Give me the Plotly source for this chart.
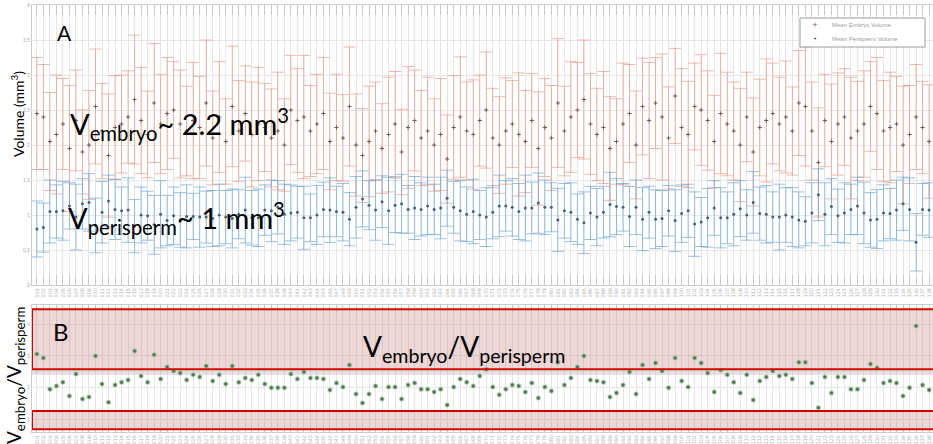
import plotly.graph_objects as go

# ---- data ----
ratio = [
    3.06, 2.93, 1.95, 2.05, 2.17, 1.73, 2.43, 1.64, 1.70, 2.99,
    2.11, 1.54, 2.08, 2.17, 2.24, 3.15, 2.36, 2.17, 3.03, 2.27,
    2.65, 2.52, 2.46, 2.24, 2.40, 2.33, 2.68, 2.21, 2.40, 2.11,
    2.68, 2.17, 2.30, 2.24, 2.40, 2.11, 1.99, 1.99, 1.99, 2.43,
    2.27, 2.49, 2.30, 2.30, 2.27, 1.92, 2.14, 2.02, 2.71, 1.80,
    1.51, 1.80, 2.05, 1.64, 2.02, 2.02, 1.64, 2.08, 2.14, 1.95,
    1.95, 1.86, 1.95, 1.45, 2.02, 2.27, 2.17, 2.05, 2.36, 2.58,
    2.02, 1.77, 1.95, 2.08, 2.05, 1.86, 2.14, 1.67, 2.02, 1.89,
    2.80, 2.08, 2.30, 2.65, 2.99, 2.24, 2.21, 2.17, 1.70, 1.83,
    2.08, 2.49, 1.80, 2.71, 2.27, 2.77, 2.52, 1.99, 2.93, 2.21,
    2.02, 2.93, 2.77, 2.46, 1.86, 2.55, 2.40, 2.17, 1.83, 2.40,
    1.61, 2.21, 2.33, 2.52, 2.36, 2.40, 2.27, 2.80, 2.80, 2.14,
    1.36, 2.33, 1.83, 2.33, 2.33, 1.95, 1.95, 2.24, 2.74, 2.62,
    2.14, 2.21, 2.14, 1.73, 1.99, 3.94, 2.08, 1.92,
]
embryo_mean = [
    2.45, 2.40, 2.05, 2.15, 2.30, 1.95, 2.35, 1.90, 2.00, 2.55,
    2.20, 1.85, 2.25, 2.30, 2.40, 2.65, 2.35, 2.15, 2.60, 2.30,
    2.45, 2.50, 2.30, 2.20, 2.35, 2.25, 2.60, 2.10, 2.40, 2.05,
    2.55, 2.20, 2.45, 2.15, 2.30, 2.25, 2.10, 2.20, 2.00, 2.50,
    2.35, 2.40, 2.20, 2.30, 2.45, 2.05, 2.25, 2.10, 2.55, 2.00,
    1.85, 2.05, 2.20, 1.95, 2.15, 2.30, 1.90, 2.25, 2.35, 2.10,
    2.20, 2.00, 2.15, 1.80, 2.25, 2.40, 2.20, 2.15, 2.35, 2.50,
    2.10, 2.00, 2.20, 2.30, 2.15, 2.05, 2.35, 1.95, 2.25, 2.10,
    2.60, 2.20, 2.40, 2.50, 2.65, 2.30, 2.15, 2.25, 1.95, 2.05,
    2.30, 2.45, 2.00, 2.55, 2.35, 2.60, 2.40, 2.10, 2.70, 2.25,
    2.15, 2.55, 2.50, 2.35, 2.05, 2.45, 2.30, 2.20, 2.00, 2.40,
    1.90, 2.25, 2.35, 2.45, 2.30, 2.40, 2.20, 2.60, 2.55, 2.20,
    1.75, 2.35, 2.05, 2.30, 2.40, 2.10, 2.20, 2.30, 2.55, 2.45,
    2.20, 2.25, 2.30, 2.00, 2.15, 2.40, 2.25, 2.05,
]
embryo_err = [
    0.80, 0.75, 0.70, 0.85, 0.65, 0.90, 0.72, 0.60, 0.78, 0.82,
    0.68, 0.88, 0.74, 0.70, 0.66, 0.92, 0.76, 0.62, 0.85, 0.71,
    0.80, 0.69, 0.77, 0.64, 0.83, 0.73, 0.90, 0.67, 0.79, 0.61,
    0.86, 0.72, 0.68, 0.75, 0.81, 0.63, 0.70, 0.84, 0.66, 0.78,
    0.74, 0.88, 0.65, 0.71, 0.80, 0.69, 0.76, 0.62, 0.85, 0.73,
    0.67, 0.79, 0.70, 0.64, 0.82, 0.75, 0.61, 0.87, 0.72, 0.68,
    0.77, 0.66, 0.80, 0.63, 0.74, 0.86, 0.70, 0.78, 0.65, 0.83,
    0.71, 0.69, 0.76, 0.62, 0.88, 0.73, 0.67, 0.81, 0.70, 0.75,
    0.92, 0.64, 0.79, 0.68, 0.85, 0.72, 0.66, 0.80, 0.74, 0.61,
    0.87, 0.70, 0.77, 0.69, 0.83, 0.65, 0.90, 0.73, 0.68, 0.84,
    0.76, 0.62, 0.79, 0.71, 0.66, 0.86, 0.74, 0.70, 0.81, 0.64,
    0.77, 0.69, 0.88, 0.72, 0.67, 0.80, 0.63, 0.75, 0.85, 0.70,
    0.78, 0.66, 0.82, 0.73, 0.69, 0.87, 0.71, 0.76, 0.64, 0.80,
    0.72, 0.79, 0.68, 0.84, 0.70, 0.75, 0.66, 0.81,
]
perisperm_mean = [
    0.80, 0.82, 1.05, 1.05, 1.06, 1.13, 0.97, 1.16, 1.18, 0.85,
    1.04, 1.20, 1.08, 1.06, 1.07, 0.84, 1.00, 0.99, 0.86, 1.01,
    0.92, 0.99, 0.93, 0.98, 0.98, 0.97, 0.97, 0.95, 1.00, 0.97,
    0.95, 1.01, 1.07, 0.96, 0.96, 1.07, 1.06, 1.11, 1.01, 1.03,
    1.04, 0.96, 0.96, 1.00, 1.08, 1.07, 1.05, 1.04, 0.94, 1.11,
    1.23, 1.14, 1.07, 1.19, 1.06, 1.14, 1.16, 1.08, 1.10, 1.08,
    1.13, 1.08, 1.10, 1.24, 1.11, 1.06, 1.01, 1.05, 1.00, 0.97,
    1.04, 1.13, 1.13, 1.11, 1.05, 1.10, 1.10, 1.17, 1.11, 1.11,
    0.93, 1.06, 1.04, 0.94, 0.89, 1.03, 0.97, 1.04, 1.15, 1.12,
    1.11, 0.98, 1.11, 0.94, 1.04, 0.94, 0.95, 1.06, 0.92, 1.02,
    1.06, 0.87, 0.90, 0.96, 1.10, 0.96, 0.96, 1.01, 1.09, 1.00,
    1.18, 1.02, 1.01, 0.97, 0.97, 1.00, 0.97, 0.93, 0.91, 1.03,
    1.29, 1.01, 1.12, 0.99, 1.03, 1.08, 1.13, 1.03, 0.93, 0.94,
    1.03, 1.02, 1.07, 1.16, 1.08, 0.61, 1.08, 1.07,
]
perisperm_err = [
    0.40, 0.35, 0.45, 0.38, 0.42, 0.33, 0.47, 0.36, 0.41, 0.39,
    0.44, 0.37, 0.43, 0.34, 0.46, 0.38, 0.40, 0.35, 0.42, 0.48,
    0.36, 0.41, 0.39, 0.45, 0.33, 0.43, 0.37, 0.40, 0.44, 0.38,
    0.42, 0.35, 0.47, 0.39, 0.41, 0.36, 0.44, 0.38, 0.43, 0.40,
    0.37, 0.45, 0.34, 0.42, 0.39, 0.46, 0.36, 0.41, 0.38, 0.44,
    0.40, 0.35, 0.43, 0.37, 0.48, 0.39, 0.42, 0.34, 0.45, 0.38,
    0.41, 0.36, 0.44, 0.40, 0.37, 0.43, 0.39, 0.46, 0.35, 0.42,
    0.38, 0.44, 0.36, 0.41, 0.40, 0.47, 0.37, 0.43, 0.39, 0.35,
    0.45, 0.39, 0.42, 0.36, 0.44, 0.38, 0.41, 0.37, 0.46, 0.40,
    0.34, 0.43, 0.39, 0.45, 0.37, 0.42, 0.40, 0.36, 0.44, 0.41,
    0.38, 0.46, 0.35, 0.42, 0.39, 0.43, 0.37, 0.45, 0.40, 0.36,
    0.44, 0.38, 0.41, 0.36, 0.47, 0.39, 0.42, 0.40, 0.35, 0.43,
    0.37, 0.45, 0.40, 0.38, 0.43, 0.36, 0.41, 0.44, 0.39, 0.42,
    0.40, 0.36, 0.43, 0.38, 0.45, 0.41, 0.37, 0.39,
]
series_names = ["Mean Embryo Volume", "Mean Perisperm Volume"]
n = len(ratio)
assert all(len(a) == n for a in (embryo_mean, embryo_err, perisperm_mean, perisperm_err))
idx = list(range(n))
sample_labels = ["%03d" % (i + 1) for i in idx]
vol_ticks = [0, 0.5, 1, 1.5, 2, 2.5, 3, 3.5, 4]
ratio_ticks = [1, 2, 3, 4]
upper_band = [2.58, 4.47]   # shaded ratio band (top red box)
lower_band = [0.69, 1.26]   # shaded ratio band (bottom red box)
mid_band = [2.40, 2.58]

W, H = 933, 444
def px(x): return x / W
def py(y): return 1 - y / H

embryo_marker = "#7a5a52"
peri_marker = "#46627c"

fig = go.Figure()
fig.add_trace(go.Scatter(
    x=idx, y=embryo_mean, mode="markers", name=series_names[0], showlegend=False,
    marker=dict(symbol="cross-thin", size=3, color=embryo_marker, line=dict(width=1, color=embryo_marker)),
    error_y=dict(type="data", array=embryo_err, color="rgba(228,140,118,0.6)", thickness=1, width=6),
    xaxis="x", yaxis="y"))
fig.add_trace(go.Scatter(
    x=idx, y=perisperm_mean, mode="markers", name=series_names[1], showlegend=False,
    marker=dict(symbol="circle", size=3, color=peri_marker),
    error_y=dict(type="data", array=perisperm_err, color="rgba(100,160,210,0.65)", thickness=1, width=6),
    xaxis="x", yaxis="y"))
fig.add_trace(go.Scatter(
    x=idx, y=ratio, mode="markers", showlegend=False,
    marker=dict(symbol="circle", size=4, color="#5a6a5c", line=dict(width=1.5, color="rgba(150,205,150,0.5)")),
    xaxis="x2", yaxis="y2"))

xr = [-0.75, 137.6]
common_x = dict(range=xr, tickmode="array", tickvals=idx, ticktext=sample_labels,
                tickangle=-90, tickfont=dict(size=5, color="#b0b0b0", family="DejaVu Sans"),
                showgrid=True, gridcolor="#e6e6e6", gridwidth=1,
                ticks="inside", ticklen=10, tickcolor="#c8c8c8", mirror="ticks",
                showline=True, linecolor="#cccccc", zeroline=False, automargin=False)
fig.update_layout(
    width=W, height=H, margin=dict(l=0, r=0, t=0, b=0),
    paper_bgcolor="white", plot_bgcolor="white", showlegend=False,
    xaxis=dict(domain=[px(32), 1], anchor="y", **common_x),
    yaxis=dict(domain=[py(285), py(5)], range=[0, 4], tickvals=vol_ticks,
               tickfont=dict(size=5, color="#aaaaaa"), showgrid=True, gridcolor="#e6e6e6",
               ticks="", showline=True, linecolor="#cccccc", mirror=True, zeroline=False,
               automargin=False),
    xaxis2=dict(domain=[px(32), 1], anchor="y2", **common_x),
    yaxis2=dict(domain=[py(432), py(305)], range=[0.6, 4.6], tickvals=ratio_ticks,
                tickfont=dict(size=5, color="#aaaaaa"), showgrid=True, gridcolor="#e6e6e6",
                ticks="", showline=True, linecolor="#cccccc", mirror=True, zeroline=False,
                automargin=False),
    font=dict(family="Lato"),
)

# shaded ratio bands with red borders (open on the right: the box runs past the visible area)
fig.add_shape(type="rect", xref="x2", yref="y2", x0=xr[0], x1=xr[1], y0=mid_band[0], y1=mid_band[1],
              fillcolor="rgba(170,170,170,0.35)", line=dict(width=0), layer="between")
for y0, y1 in (upper_band, lower_band):
    fig.add_shape(type="rect", xref="x2", yref="y2", x0=xr[0], x1=xr[1], y0=y0, y1=y1,
                  fillcolor="rgba(190,110,110,0.28)", line=dict(width=0), layer="between")
    for yy in (y0, y1):
        fig.add_shape(type="line", xref="x2", yref="y2", x0=xr[0], x1=xr[1], y0=yy, y1=yy,
                      line=dict(color="#d40000", width=2), layer="above")
    fig.add_shape(type="line", xref="x2", yref="y2", x0=xr[0], x1=xr[0], y0=y0, y1=y1,
                  line=dict(color="#d40000", width=2), layer="above")

# compact legend box (top right)
fig.add_shape(type="rect", xref="paper", yref="paper", x0=px(800), x1=px(925), y0=py(47), y1=py(18),
              fillcolor="white", line=dict(color="#9a9a9a", width=1), layer="above")
for k, (sym, col) in enumerate([("+", embryo_marker), ("•", peri_marker)]):
    yy = py(25 + k * 14)
    fig.add_annotation(text=sym, x=px(815), y=yy, xref="paper", yref="paper", showarrow=False,
                       xanchor="center", yanchor="middle", font=dict(size=7, color=col, family="DejaVu Sans"))
    fig.add_annotation(text=series_names[k], x=px(830), y=yy, xref="paper", yref="paper", showarrow=False,
                       xanchor="left", yanchor="middle", font=dict(size=6, color="#9a9a9a", family="Liberation Sans"))

big = dict(family="Lato", color="black")
ann = [
    dict(text="A", x=px(55), y=py(32), size=21),
    dict(text="V<sub>embryo</sub>~ 2.2 mm<sup>3</sup>", x=px(68), y=py(124), size=29),
    dict(text="V<sub>perisperm</sub>~ 1 mm<sup>3</sup>", x=px(66), y=py(218), size=29),
    dict(text="B", x=px(51), y=py(331), size=24),
    dict(text="V<sub>embryo</sub>/V<sub>perisperm</sub>", x=px(361), y=py(348), size=28),
]
for a in ann:
    fig.add_annotation(text=a["text"], x=a["x"], y=a["y"], xref="paper", yref="paper",
                       xanchor="left", yanchor="middle", showarrow=False,
                       font=dict(size=a["size"], **big))
fig.add_annotation(text="Volume (mm<sup>3</sup>)", x=px(17), y=py(114), xref="paper", yref="paper",
                   textangle=-90, showarrow=False, xanchor="center", yanchor="middle",
                   font=dict(size=14, **big))
fig.add_annotation(text="V<sub>embryo</sub>/V<sub>perisperm</sub>", x=px(15), y=py(376),
                   xref="paper", yref="paper", textangle=-90, showarrow=False,
                   xanchor="center", yanchor="middle", font=dict(size=19, **big))

fig.write_html("out.html", config={"displayModeBar": False},
               post_script="document.body.style.margin='0';document.body.style.overflow='hidden';")
